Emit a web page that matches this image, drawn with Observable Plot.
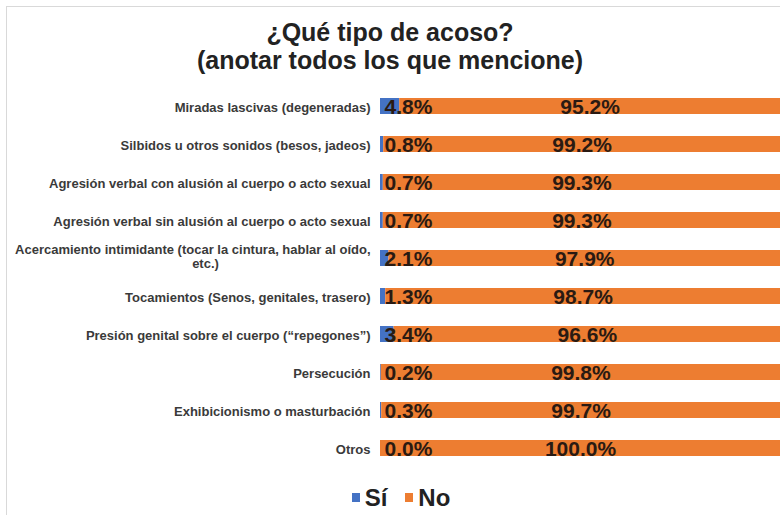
<!DOCTYPE html>
<html>
<head>
<meta charset="utf-8">
<script src="https://cdn.jsdelivr.net/npm/d3@7"></script>
<script src="https://cdn.jsdelivr.net/npm/@observablehq/plot@0.6"></script>
<style>
  html, body { margin: 0; padding: 0; background: #fff; }
  body { width: 780px; height: 515px; position: relative; overflow: hidden; font-family: "Liberation Sans", Arial, sans-serif; }
  #frame { position: absolute; left: 6px; top: 6px; width: 800px; height: 600px; border-left: 1px solid #d9d9d9; border-top: 1px solid #d9d9d9; pointer-events: none; }
  #title { height: 80px; box-sizing: border-box; padding-top: 18px; text-align: center; font-weight: bold; font-size: 25px; line-height: 28px; color: #222; }
  #chart svg { display: block; }
  #legend { height: 35px; display: flex; justify-content: center; align-items: center; gap: 18px; font-weight: bold; font-size: 24px; color: #222; padding-left: 22px; }
  .item { display: flex; align-items: center; gap: 5px; }
  .sw { width: 8px; height: 9px; display: inline-block; }
</style>
</head>
<body>
<div id="frame"></div>
<div id="title">¿Qué tipo de acoso?<br>(anotar todos los que mencione)</div>
<div id="chart"></div>
<div id="legend"></div>
<script>
const categories = [
  "Miradas lascivas (degeneradas)",
  "Silbidos u otros sonidos (besos, jadeos)",
  "Agresión verbal con alusión al cuerpo o acto sexual",
  "Agresión verbal sin alusión al cuerpo o acto sexual",
  "Acercamiento intimidante (tocar la cintura, hablar al oído,\netc.)",
  "Tocamientos (Senos, genitales, trasero)",
  "Presión genital sobre el cuerpo (“repegones”)",
  "Persecución",
  "Exhibicionismo o masturbación",
  "Otros"
];
const si = [4.8, 0.8, 0.7, 0.7, 2.1, 1.3, 3.4, 0.2, 0.3, 0.0];
const no = [95.2, 99.2, 99.3, 99.3, 97.9, 98.7, 96.6, 99.8, 99.7, 100.0];
const seriesNames = ["Sí", "No"];
const seriesColors = ["#4472C4", "#ED7D31"];

const rows = categories.map((c, i) => ({cat: c, line1: c.split("\n")[0], line2: c.split("\n")[1] || null, si: si[i], no: no[i]}));
const stacked = [];
rows.forEach(r => {
  stacked.push({cat: r.cat, serie: "Sí", x1: 0, x2: r.si, v: r.si});
  stacked.push({cat: r.cat, serie: "No", x1: r.si, x2: r.si + r.no, v: r.no});
});
const fmt = v => v.toFixed(1) + "%";
const single = rows.filter(r => !r.line2);
const wrapped = rows.filter(r => r.line2);
const labelStyle = {fontSize: 13, fontWeight: "bold", fill: "#3a3a3a"};
const valueStyle = {fontSize: 21, fontWeight: "bold", fill: "#2a1a12"};

const plot = Plot.plot({
  width: 780,
  height: 400,
  marginLeft: 380,
  marginRight: 0,
  marginTop: 6,
  marginBottom: 13,
  style: {fontFamily: "Liberation Sans, Arial, sans-serif", background: "transparent"},
  x: {domain: [0, 100], axis: null},
  y: {domain: categories, axis: null, paddingInner: 0.58, paddingOuter: 0.29},
  color: {domain: seriesNames, range: seriesColors},
  marks: [
    Plot.barX(stacked, {x1: "x1", x2: "x2", y: "cat", fill: "serie"}),
    Plot.text(single, {x: 0, y: "cat", text: "line1", textAnchor: "end", dx: -10, dy: 1, ...labelStyle}),
    Plot.text(wrapped, {x: 0, y: "cat", text: "line1", textAnchor: "end", dx: -10, dy: -9, ...labelStyle}),
    Plot.text(wrapped, {x: 0, y: "cat", text: "line2", textAnchor: "middle", dx: -175, dy: 5, ...labelStyle}),
    Plot.text(rows, {x: 0, y: "cat", text: d => fmt(d.si), textAnchor: "start", dx: 4, dy: 1, ...valueStyle}),
    Plot.text(rows, {x: d => d.si + d.no / 2, y: "cat", text: d => fmt(d.no), textAnchor: "middle", dy: 1, ...valueStyle})
  ]
});
document.getElementById("chart").appendChild(plot);

const legend = document.getElementById("legend");
seriesNames.forEach((s, i) => {
  const it = document.createElement("div");
  it.className = "item";
  it.innerHTML = `<span class="sw" style="background:${seriesColors[i]}"></span><span>${s}</span>`;
  legend.appendChild(it);
});
</script>
</body>
</html>
